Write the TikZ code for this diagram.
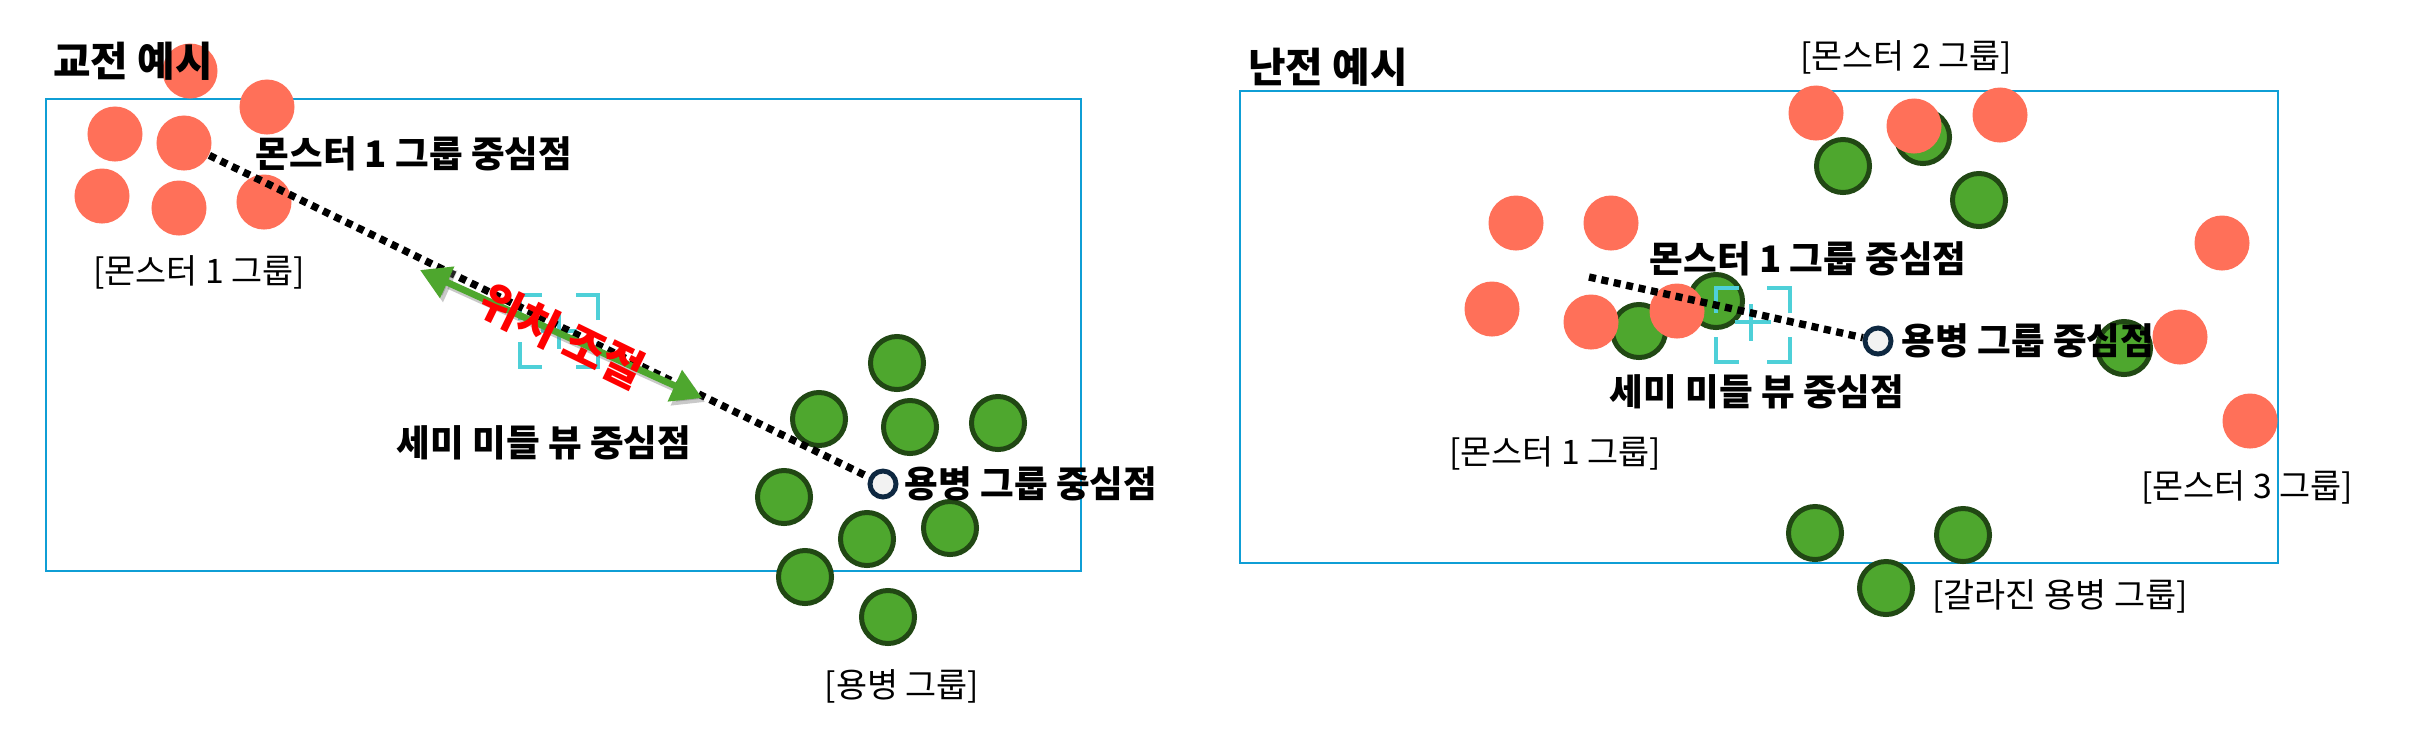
\documentclass[tikz,border=0pt]{standalone}
\usepackage{fontspec}
\usetikzlibrary{arrows.meta}
\newfontfamily\kr{Noto Sans CJK KR}
\definecolor{redf}{RGB}{255,112,89}
\definecolor{greenf}{RGB}{78,167,46}
\definecolor{greend}{RGB}{33,72,20}
\definecolor{rectc}{RGB}{15,158,213}
\definecolor{cyanc}{RGB}{78,208,216}
\definecolor{navyc}{RGB}{14,40,65}
\definecolor{whitef}{RGB}{242,242,242}
\tikzset{
  panel/.style={draw=rectc, line width=0.6pt},
  redc/.style={circle, fill=redf, minimum size=0.55cm, inner sep=0pt},
  greenc/.style={circle, fill=greenf, draw=greend, line width=1.42pt, minimum size=0.53cm, inner sep=0pt},
  centerc/.style={circle, fill=whitef, draw=navyc, line width=1.4pt, minimum size=0.26cm, inner sep=0pt},
  dotline/.style={line width=2.1pt, dash pattern=on 2pt off 1.6pt, black},
  cyanline/.style={draw=cyanc, line width=1pt},
  boldlbl/.style={font=\kr\bfseries\fontsize{10.4pt}{12pt}\selectfont, inner sep=0pt},
  titlelbl/.style={font=\kr\bfseries\fontsize{11.6pt}{13pt}\selectfont, inner sep=0pt},
  lbl/.style={font=\kr\fontsize{9.6pt}{11pt}\selectfont, inner sep=0pt},
  garrow/.style={line width=1.9pt, draw=greenf, {Triangle[length=8.5pt,width=9.4pt]}-{Triangle[length=8.5pt,width=9.4pt]}},
}
\begin{document}
\begin{tikzpicture}[x=0.01cm,y=-0.01cm]
\useasboundingbox[fill=white] (0,0) rectangle (2436,744);
% panels
\draw[panel] (46,99) rectangle (1081,571);
\draw[panel] (1240,91) rectangle (2278,563);

% ===== left panel =====
\foreach \n/\p in {a/{897,363}, b/{819,419}, c/{910,427}, d/{998,423}, e/{784,497}, f/{867,539}, g/{950,528}, h/{805,577}, i/{888,617}}
  \node[greenc] (lg\n) at (\p) {};
\foreach \n/\p in {a/{190,71}, b/{267,107}, c/{115,134}, d/{184,143}, e/{102,196}, f/{179,208}, g/{264,202}}
  \node[redc] (lm\n) at (\p) {};
% semi middle view marker
\coordinate (smL) at (559,331);
\foreach \sx in {-1,1} \foreach \sy in {-1,1}
  \draw[cyanline] ([shift={({\sx*39},{\sy*11})}]smL) -- ([shift={({\sx*39},{\sy*36})}]smL) -- ([shift={({\sx*17},{\sy*36})}]smL);
\draw[cyanline] ([shift={(-18,0)}]smL) -- ([shift={(18,0)}]smL);
\draw[cyanline] ([shift={(0,-18)}]smL) -- ([shift={(0,18)}]smL);
% centre of mercenaries
\node[centerc] (lmc) at (883,484) {};
\draw[dotline] (lmd) -- (lmc);
% texts
\node[titlelbl] (lt) at (133,61) {교전 예시};
\node[boldlbl] (lm1c) at (414,154) {몬스터 1 그룹 중심점};
\node[lbl] (lm1g) at (199,272) {[몬스터 1 그룹]};
\node[boldlbl] (lsm) at (544,443) {세미 미들 뷰 중심점};
\node[boldlbl, anchor=west] (lmcl) at (904,484) {용병 그룹 중심점};
\node[lbl] (lmg) at (902,686) {[용병 그룹]};
% position adjust arrow
\coordinate (arL) at (420,270);
\coordinate (arR) at (702,398);
\draw[garrow, draw=black!60, fill=black!60, opacity=0.35] ([shift={(3,4)}]arL) -- ([shift={(3,4)}]arR);
\draw[garrow, fill=greenf] (arL) -- (arR);
\node[font=\kr\bfseries\fontsize{12.8pt}{14pt}\selectfont, text=red, rotate=-26, inner sep=0pt] (adj) at (562,336) {위치 조절};

% ===== right panel =====
\foreach \n/\p in {a/{1923,137}, b/{1843,166}, c/{1979,200}, d/{1639,331}, e/{1716,301}, f/{2124,348}, g/{1815,533}, h/{1963,535}, i/{1886,588}}
  \node[greenc] (rg\n) at (\p) {};
\foreach \n/\p in {a/{1816,113}, b/{1914,126}, c/{2000,115}, d/{1516,223}, e/{1611,223}, f/{1492,309}, g/{1591,322}, h/{1677,311}, i/{2222,243}, j/{2180,337}, k/{2250,421}}
  \node[redc] (rm\n) at (\p) {};
\coordinate (smR) at (1753,325);
\foreach \sx in {-1,1} \foreach \sy in {-1,1}
  \draw[cyanline] ([shift={({\sx*37},{\sy*12})}]smR) -- ([shift={({\sx*37},{\sy*37})}]smR) -- ([shift={({\sx*14},{\sy*37})}]smR);
\draw[cyanline] ([shift={(-18,-3)}]smR) -- ([shift={(18,-3)}]smR);
\draw[cyanline] ([shift={(-2,-21)}]smR) -- ([shift={(-2,16)}]smR);
\coordinate (rstart) at (1589,277);
\node[centerc] (rmc) at (1878,341) {};
\draw[dotline] (rstart) -- (rmc);
\node[titlelbl] (rt) at (1328,67) {난전 예시};
\node[lbl] (rm2g) at (1906,57) {[몬스터 2 그룹]};
\node[boldlbl] (rm1c) at (1808,259) {몬스터 1 그룹 중심점};
\node[boldlbl, anchor=west] (rmcl) at (1901,341) {용병 그룹 중심점};
\node[boldlbl] (rsm) at (1757,392) {세미 미들 뷰 중심점};
\node[lbl] (rm1g) at (1555,453) {[몬스터 1 그룹]};
\node[lbl] (rm3g) at (2247,487) {[몬스터 3 그룹]};
\node[lbl] (rsg) at (2060,596) {[갈라진 용병 그룹]};
\end{tikzpicture}
\end{document}
